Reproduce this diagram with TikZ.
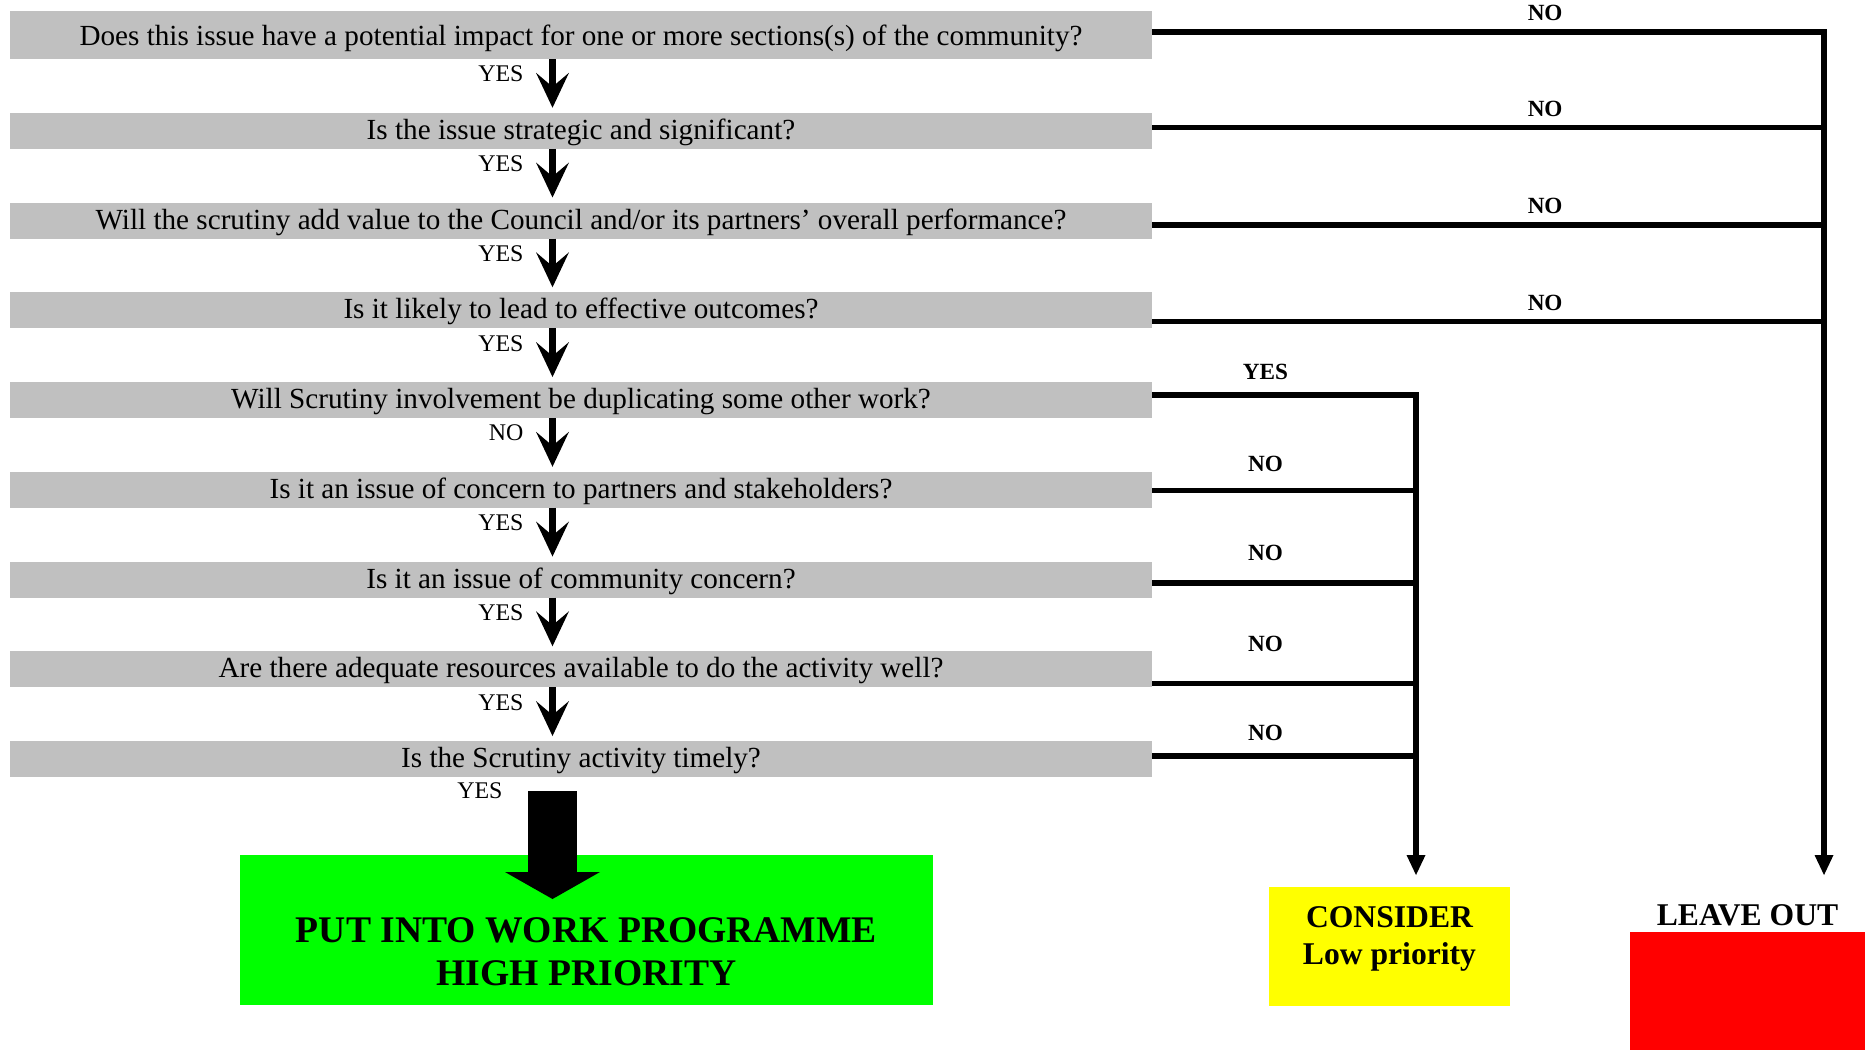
\documentclass[tikz,border=0pt]{standalone}
\usepackage{fontspec}
\setmainfont{Liberation Serif}
\usetikzlibrary{arrows.meta,positioning}

\definecolor{bargray}{RGB}{192,192,192}
\definecolor{highgreen}{RGB}{0,255,0}
\definecolor{lowyellow}{RGB}{255,255,0}
\definecolor{outred}{RGB}{255,0,0}

\begin{document}
\begin{tikzpicture}[node distance=0.5375cm,
  question/.style={fill=bargray, inner sep=0pt, outer sep=0pt, minimum width=11.42cm,
    minimum height=0.36cm, text height=0.23cm, text depth=0.06cm,
    font=\fontsize{8.3}{10}\selectfont},
  answer/.style={inner sep=0pt, outer sep=0pt, font=\fontsize{6.8}{8}\selectfont},
  branch/.style={inner sep=0pt, outer sep=0pt, font=\bfseries\fontsize{6.6}{8}\selectfont},
  verdict/.style={inner sep=0pt, outer sep=0pt, align=center,
    font=\bfseries\fontsize{9}{10.5}\selectfont},
  down/.style={line width=1.8pt,
    -{Stealth[length=0.35cm, width=0.33cm, inset=0.14cm, line width=0pt]}},
  link/.style={line width=1.5pt},
  drop/.style={link, -{Triangle[length=0.2cm, width=0.19cm, line width=0pt]}}]

\useasboundingbox (0,0) rectangle (18.65,-10.53);

% =====================
% Questions
% =====================
\node[question, minimum height=0.48cm, text height=0.26cm] (q1) at (5.81,-0.35)
  {Does this issue have a potential impact for one or more sections(s) of the community?};
\node[question, below=of q1] (q2) {Is the issue strategic and significant?};
\node[question, below=of q2] (q3)
  {Will the scrutiny add value to the Council and/or its partners’ overall performance?};
\node[question, below=of q3] (q4) {Is it likely to lead to effective outcomes?};
\node[question, below=of q4] (q5) {Will Scrutiny involvement be duplicating some other work?};
\node[question, below=of q5] (q6) {Is it an issue of concern to partners and stakeholders?};
\node[question, below=of q6] (q7) {Is it an issue of community concern?};
\node[question, below=of q7] (q8) {Are there adequate resources available to do the activity well?};
\node[question, below=of q8] (q9) {Is the Scrutiny activity timely?};

% =====================
% Outcomes
% =====================
\node[verdict, fill=highgreen, minimum width=6.93cm, text height=1.30cm, text depth=0.20cm,
  font=\bfseries\fontsize{10.7}{12.2}\selectfont] (high) at (5.865,-9.30)
  {PUT INTO WORK PROGRAMME\\HIGH PRIORITY};
\node[verdict, fill=lowyellow, minimum width=2.41cm, text height=0.77cm, text depth=0.42cm]
  (low) at (13.895,-9.465) {CONSIDER\\Low priority};
\node[fill=outred, minimum width=2.35cm, minimum height=1.18cm, inner sep=0pt, outer sep=0pt,
  label={[verdict, label distance=0.06cm]above:LEAVE OUT}] (out) at (17.475,-9.91) {};

% =====================
% Down the list
% =====================
\coordinate (ax) at (5.525,0);
\foreach \a/\b/\ans in {q1/q2/YES,q2/q3/YES,q3/q4/YES,q4/q5/YES,q5/q6/NO,q6/q7/YES,q7/q8/YES,q8/q9/YES}
  \draw[down, shorten >=0.05cm] (\a.south -| ax) -- (\b.north -| ax)
    node[answer, at start, below left=0.07cm and 0.29cm] {\ans};

\draw[line width=0.49cm, -{Triangle[length=0.27cm, width=0.95cm, line width=0pt]}]
  ([yshift=-0.14cm]q9.south -| ax) -- ([yshift=-0.44cm]high.north -| ax)
  node[answer, at start, left=0.5cm] {YES};

% =====================
% Side branches
% =====================
\coordinate (outx) at (18.24,0);
\coordinate (lowx) at (14.16,0);
\foreach \q/\dy in {1/0.03cm,2/0.03cm,3/-0.045cm,4/-0.11cm,5/0.05cm,6/-0.01cm,7/-0.035cm,8/-0.14cm,9/0.03cm}
  \coordinate (e\q) at ([yshift=\dy]q\q.east);

% NO -> LEAVE OUT
\draw[drop, shorten >=0.57cm] (e1) -- (e1 -| outx)
  node[branch, pos=0.585, above=0.11cm] {NO} -- (out.north -| outx);
\foreach \q in {2,3,4}
  \draw[link] (e\q) -- (e\q -| outx) node[branch, pos=0.585, above=0.11cm] {NO};

% -> CONSIDER
\draw[drop, shorten >=0.12cm] (e5) -- (e5 -| lowx)
  node[branch, pos=0.43, above=0.15cm] {YES} -- (low.north -| lowx);
\foreach \q/\ly in {6/0.19cm,7/0.22cm,8/0.32cm,9/0.15cm}
  \draw[link] (e\q) -- (e\q -| lowx) node[branch, pos=0.43, above=\ly] {NO};

\end{tikzpicture}
\end{document}
